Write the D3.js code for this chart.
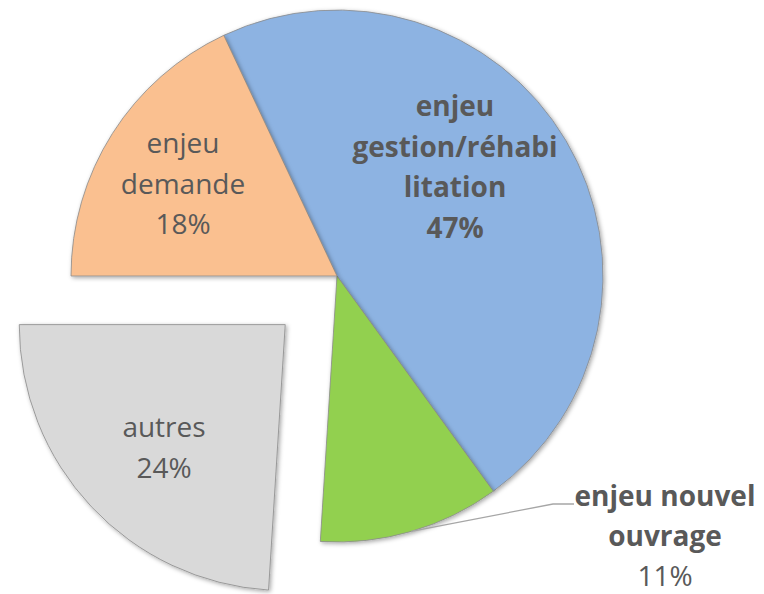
<!DOCTYPE html>
<html>
<head>
<meta charset="utf-8">
<script src="https://cdn.jsdelivr.net/npm/d3@7"></script>
<style>
  html, body { margin: 0; padding: 0; background: #ffffff; }
  svg { display: block; }
  text { font-family: "Open Sans", "Noto Sans", sans-serif; fill: #595959; }
</style>
</head>
<body>
<svg id="chart" width="764" height="594"></svg>
<script>
// Share of projects by main issue (%)
const categories = ["enjeu gestion/réhabilitation", "enjeu nouvel ouvrage", "autres", "enjeu demande"];
const values = [47, 11, 24, 18];
const labelLines = [
  ["enjeu", "gestion/réhabi", "litation"],
  ["enjeu nouvel", "ouvrage"],
  ["autres"],
  ["enjeu", "demande"]
];
const colors = ["#8DB3E2", "#92D050", "#D9D9D9", "#FAC090"];

// Layout
const W = 764, H = 594;
const cx = 337, cy = 276, radius = 266;
const startDeg = -25.2;
const explodeIdx = 2, explodeDist = 71;
const fontSize = 28, lineH = 40.5;
// label anchor (centre x, baseline of first line) and weight per slice
const labelStyle = [
  { x: 455, y: 116, bold: true },
  { x: 665, y: 506, bold: true, pctBold: false, outside: true, lineH: 40 },
  { x: 164, y: 437, bold: false },
  { x: 183, y: 153, bold: false }
];

const svg = d3.select("#chart");

const defs = svg.append("defs");
const f = defs.append("filter").attr("id", "shadow")
  .attr("x", "-10%").attr("y", "-10%").attr("width", "120%").attr("height", "120%");
f.append("feDropShadow").attr("dx", 1.5).attr("dy", 1.5).attr("stdDeviation", 2.2)
  .attr("flood-color", "#000").attr("flood-opacity", 0.35);

const pie = d3.pie().value(d => d).sort(null)
  .startAngle(startDeg * Math.PI / 180)
  .endAngle(startDeg * Math.PI / 180 + 2 * Math.PI);
const arcs = pie(values);
const arc = d3.arc().innerRadius(0).outerRadius(radius);

const g = svg.append("g").attr("transform", `translate(${cx},${cy})`);

g.selectAll("path.slice").data(arcs).join("path")
  .attr("class", "slice")
  .attr("d", arc)
  .attr("fill", (d, i) => colors[i])
  .attr("stroke", "#8a8a8a")
  .attr("stroke-width", 0.8)
  .attr("filter", "url(#shadow)")
  .attr("transform", (d, i) => {
    if (i !== explodeIdx) return null;
    const a = (d.startAngle + d.endAngle) / 2;
    return `translate(${explodeDist * Math.sin(a)},${-explodeDist * Math.cos(a)})`;
  });

// leader line for the outside label
arcs.forEach((d, i) => {
  if (!labelStyle[i].outside) return;
  const a = (d.startAngle + d.endAngle) / 2;
  const p0 = [cx + radius * Math.sin(a), cy - radius * Math.cos(a)];
  const ls = labelStyle[i];
  const yLine = ls.y - 2;
  svg.append("polyline")
    .attr("points", `${p0[0]},${p0[1]} ${ls.x - 112},${yLine} ${ls.x - 91},${yLine}`)
    .attr("fill", "none").attr("stroke", "#a6a6a6").attr("stroke-width", 1.3);
});

// labels
arcs.forEach((d, i) => {
  const ls = labelStyle[i];
  const lh = ls.lineH || lineH;
  const lines = labelLines[i].concat([d3.format(".0f")(d.value) + "%"]);
  const t = svg.append("text")
    .attr("text-anchor", "middle")
    .attr("font-size", fontSize);
  lines.forEach((ln, k) => {
    const isPct = k === lines.length - 1;
    const bold = isPct && ls.pctBold === false ? false : ls.bold;
    t.append("tspan")
      .attr("x", ls.x)
      .attr("y", ls.y + k * lh)
      .attr("font-weight", bold ? 700 : 400)
      .text(ln);
  });
});
</script>
</body>
</html>
